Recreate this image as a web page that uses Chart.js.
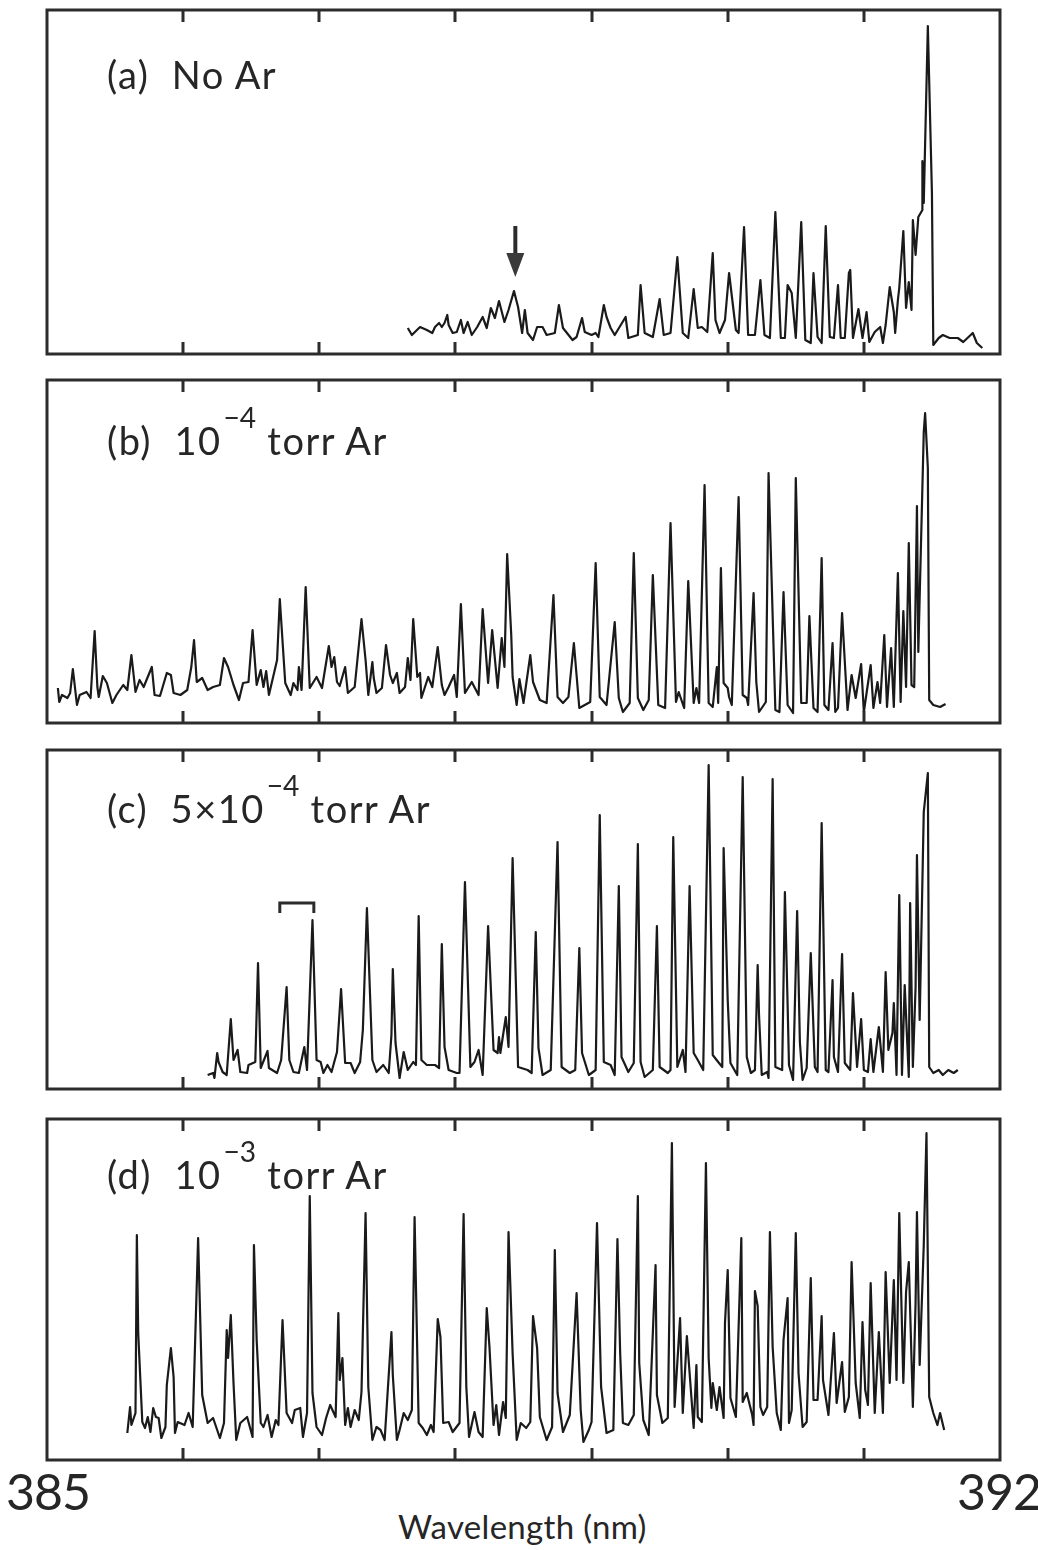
<!DOCTYPE html>
<html>
<head>
<meta charset="utf-8">
<script src="https://cdn.jsdelivr.net/npm/chart.js@4.4.1/dist/chart.umd.min.js"></script>
<style>
  html, body { margin: 0; padding: 0; background: #fff; }
  body { width: 1038px; height: 1550px; position: relative; overflow: hidden;
         font-family: Lato, "Open Sans", "DejaVu Sans", sans-serif; color: #262626; }
  canvas.pc { position: absolute; left: 37px; }
  .lbl { position: absolute; font-size: 38px; line-height: 1; white-space: nowrap; letter-spacing: 1.5px; }
  .sup { position: relative; top: -0.95em; font-size: 0.74em; letter-spacing: 0; margin-left: 2px; }
  .tick { position: absolute; font-size: 50px; line-height: 1; letter-spacing: -1px; }
  .title { position: absolute; font-size: 33px; line-height: 1; white-space: nowrap; letter-spacing: 0.3px; }
</style>
</head>
<body>
<canvas id="cA" class="pc" width="973" height="364" style="top:0px"></canvas>
<canvas id="cB" class="pc" width="973" height="363" style="top:370px"></canvas>
<canvas id="cC" class="pc" width="973" height="359" style="top:740px"></canvas>
<canvas id="cD" class="pc" width="973" height="361" style="top:1109px"></canvas>

<div class="lbl" style="left:107px;top:55px">(a)&nbsp;&nbsp;No Ar</div>
<div class="lbl" style="left:107px;top:421px">(b)&nbsp;&nbsp;10<span class="sup">−4</span> torr Ar</div>
<div class="lbl" style="left:107px;top:789px">(c)&nbsp;&nbsp;5×10<span class="sup">−4</span> torr Ar</div>
<div class="lbl" style="left:107px;top:1155px">(d)&nbsp;&nbsp;10<span class="sup">−3</span> torr Ar</div>

<div id="tL" class="tick" style="left:6px;top:1466px"></div>
<div id="tR" class="tick" style="left:957px;top:1466px"></div>
<div id="xt" class="title" style="left:398px;top:1510px"></div>

<script>
// ---------- data (wavelength in nm, intensity in arbitrary units) ----------
const axisMin = 385;
const axisMax = 392;
const wavelengthTicks = [386, 387, 388, 389, 390, 391];
const xTickLabels = ['385', '392'];
const axisTitle = 'Wavelength (nm)';

// (a) No Ar
const specA = [[387.65,26],[387.68,19],[387.74,27],[387.79,24],[387.83,21],[387.85,27],[387.88,31],[387.90,27],[387.92,31],[387.94,39],[387.95,29],[387.98,21],[388.01,22],[388.04,34],[388.06,21],[388.09,32],[388.12,19],[388.16,27],[388.20,37],[388.23,26],[388.26,46],[388.29,36],[388.32,53],[388.36,32],[388.39,44],[388.43,63],[388.46,47],[388.49,21],[388.51,44],[388.53,21],[388.57,14],[388.60,27],[388.64,27],[388.67,19],[388.73,21],[388.76,49],[388.79,26],[388.86,14],[388.89,17],[388.93,36],[388.95,22],[389.00,19],[389.03,21],[389.05,17],[389.09,49],[389.11,37],[389.14,26],[389.17,19],[389.25,37],[389.27,16],[389.34,19],[389.36,69],[389.39,21],[389.45,17],[389.50,55],[389.53,19],[389.58,21],[389.63,97],[389.67,21],[389.71,16],[389.75,65],[389.78,26],[389.81,27],[389.85,22],[389.89,101],[389.91,34],[389.94,21],[389.98,34],[390.01,81],[390.06,24],[390.08,21],[390.12,127],[390.15,19],[390.20,19],[390.24,74],[390.27,19],[390.31,16],[390.35,142],[390.39,16],[390.42,16],[390.44,69],[390.47,61],[390.50,16],[390.54,132],[390.57,14],[390.61,11],[390.63,81],[390.66,17],[390.69,11],[390.72,128],[390.75,17],[390.78,16],[390.81,69],[390.83,16],[390.86,16],[390.89,81],[390.90,84],[390.92,16],[390.96,45],[390.99,16],[391.02,42],[391.04,12],[391.08,22],[391.12,27],[391.14,11],[391.16,29],[391.19,67],[391.22,42],[391.23,21],[391.25,54],[391.26,66],[391.29,123],[391.31,46],[391.33,72],[391.35,44],[391.36,134],[391.38,99],[391.40,137],[391.43,144],[391.43,193],[391.44,151],[391.47,328],[391.50,161],[391.51,9],[391.55,16],[391.58,19],[391.63,16],[391.69,16],[391.73,12],[391.80,21],[391.83,11],[391.87,6]];

// (b) 1e-4 torr Ar
const specB = [[385.08,35],[385.09,21],[385.11,28],[385.15,25],[385.17,30],[385.19,54],[385.22,18],[385.24,28],[385.29,31],[385.32,25],[385.35,92],[385.37,36],[385.38,26],[385.41,47],[385.44,40],[385.48,20],[385.51,28],[385.56,38],[385.59,33],[385.62,68],[385.65,31],[385.68,43],[385.71,36],[385.74,46],[385.77,56],[385.79,28],[385.83,27],[385.88,50],[385.91,48],[385.93,30],[385.98,28],[386.03,33],[386.06,56],[386.08,83],[386.10,41],[386.14,45],[386.18,33],[386.22,36],[386.27,38],[386.30,65],[386.33,56],[386.37,38],[386.41,23],[386.44,40],[386.48,41],[386.51,93],[386.54,38],[386.57,53],[386.59,36],[386.61,52],[386.63,28],[386.69,63],[386.71,124],[386.75,40],[386.79,28],[386.81,40],[386.84,33],[386.85,56],[386.87,33],[386.90,136],[386.93,35],[386.98,46],[387.02,35],[387.07,77],[387.09,56],[387.11,66],[387.13,41],[387.15,37],[387.19,56],[387.21,30],[387.26,36],[387.31,104],[387.34,63],[387.36,28],[387.39,61],[387.40,45],[387.42,30],[387.46,35],[387.49,78],[387.52,48],[387.54,40],[387.57,50],[387.59,30],[387.63,36],[387.65,65],[387.67,43],[387.69,104],[387.72,46],[387.74,50],[387.75,25],[387.80,46],[387.83,36],[387.87,76],[387.90,38],[387.92,28],[387.95,36],[387.99,48],[388.01,26],[388.04,119],[388.07,30],[388.12,41],[388.17,28],[388.20,114],[388.24,40],[388.27,93],[388.31,35],[388.34,85],[388.36,56],[388.38,169],[388.41,88],[388.42,46],[388.45,18],[388.47,44],[388.50,20],[388.55,68],[388.57,41],[388.62,23],[388.67,20],[388.72,128],[388.75,26],[388.79,20],[388.83,26],[388.87,80],[388.91,15],[388.99,21],[389.03,160],[389.06,26],[389.11,18],[389.17,101],[389.20,25],[389.23,11],[389.28,20],[389.31,170],[389.34,25],[389.38,13],[389.42,23],[389.45,148],[389.49,18],[389.54,15],[389.58,200],[389.62,21],[389.64,31],[389.68,15],[389.71,142],[389.75,20],[389.77,35],[389.79,20],[389.83,238],[389.86,20],[389.89,16],[389.92,56],[389.93,20],[389.95,155],[389.97,40],[390.00,35],[390.01,26],[390.03,18],[390.08,226],[390.11,28],[390.14,25],[390.15,18],[390.19,130],[390.21,41],[390.23,11],[390.28,21],[390.30,250],[390.35,13],[390.38,11],[390.41,131],[390.44,18],[390.48,10],[390.50,245],[390.54,20],[390.58,20],[390.60,107],[390.63,15],[390.66,11],[390.69,165],[390.71,18],[390.74,13],[390.77,80],[390.79,11],[390.81,15],[390.84,110],[390.88,13],[390.91,48],[390.94,25],[390.98,59],[391.00,11],[391.02,30],[391.05,58],[391.07,15],[391.10,41],[391.12,20],[391.15,88],[391.17,16],[391.20,75],[391.22,16],[391.25,150],[391.27,21],[391.29,112],[391.31,36],[391.33,180],[391.35,38],[391.37,36],[391.39,217],[391.40,71],[391.44,291],[391.45,310],[391.47,255],[391.48,23],[391.51,18],[391.56,16],[391.60,19]];

// (c) 5e-4 torr Ar
const specC = [[386.18,14],[386.22,16],[386.23,11],[386.25,36],[386.26,27],[386.29,17],[386.32,14],[386.35,70],[386.37,29],[386.40,39],[386.42,17],[386.47,16],[386.48,24],[386.53,27],[386.55,126],[386.57,21],[386.62,38],[386.63,21],[386.69,16],[386.72,29],[386.76,102],[386.78,29],[386.81,17],[386.85,16],[386.89,42],[386.91,19],[386.95,169],[386.98,29],[387.01,27],[387.03,16],[387.06,24],[387.09,17],[387.13,37],[387.16,100],[387.19,26],[387.23,26],[387.26,16],[387.30,27],[387.32,59],[387.35,181],[387.39,29],[387.42,17],[387.47,24],[387.51,16],[387.53,54],[387.54,120],[387.56,46],[387.59,11],[387.62,37],[387.65,19],[387.69,27],[387.71,24],[387.73,173],[387.75,29],[387.79,24],[387.85,24],[387.88,21],[387.90,145],[387.92,42],[387.95,19],[388.01,16],[388.03,16],[388.07,207],[388.11,22],[388.14,27],[388.17,39],[388.20,14],[388.24,163],[388.28,39],[388.31,36],[388.32,52],[388.33,36],[388.37,72],[388.39,42],[388.42,231],[388.46,22],[388.53,19],[388.56,16],[388.59,157],[388.61,41],[388.64,14],[388.70,19],[388.75,247],[388.78,22],[388.84,16],[388.88,19],[388.91,141],[388.93,36],[388.98,14],[389.03,19],[389.06,274],[389.09,27],[389.14,24],[389.17,14],[389.20,203],[389.22,32],[389.27,17],[389.31,26],[389.34,245],[389.36,27],[389.39,12],[389.45,19],[389.48,163],[389.50,22],[389.56,16],[389.58,19],[389.60,252],[389.63,22],[389.67,39],[389.69,17],[389.72,203],[389.75,36],[389.78,29],[389.82,19],[389.86,324],[389.89,34],[389.93,27],[389.96,22],[389.97,241],[390.00,89],[390.02,26],[390.07,14],[390.11,312],[390.14,32],[390.17,16],[390.20,19],[390.22,124],[390.23,74],[390.25,14],[390.29,17],[390.30,11],[390.33,310],[390.35,22],[390.40,19],[390.42,197],[390.44,84],[390.45,24],[390.48,9],[390.51,178],[390.53,47],[390.55,9],[390.58,21],[390.61,136],[390.64,22],[390.66,17],[390.69,266],[390.72,19],[390.74,17],[390.77,109],[390.78,32],[390.81,17],[390.84,135],[390.86,26],[390.90,19],[390.92,96],[390.95,22],[390.98,70],[391.00,19],[391.03,17],[391.05,50],[391.07,17],[391.11,62],[391.14,17],[391.16,117],[391.18,39],[391.21,56],[391.22,86],[391.24,14],[391.26,194],[391.28,14],[391.30,104],[391.33,12],[391.34,186],[391.36,22],[391.38,102],[391.39,234],[391.41,69],[391.44,277],[391.47,316],[391.48,22],[391.51,16],[391.55,19],[391.58,14],[391.62,19],[391.66,16],[391.69,19]];

// (d) 1e-3 torr Ar
const specD = [[385.59,27],[385.61,53],[385.62,35],[385.65,47],[385.66,225],[385.67,127],[385.70,38],[385.72,32],[385.74,43],[385.76,28],[385.78,52],[385.80,43],[385.82,42],[385.84,22],[385.87,33],[385.88,75],[385.91,112],[385.93,83],[385.94,27],[385.96,38],[386.01,35],[386.04,47],[386.07,33],[386.11,222],[386.14,65],[386.18,37],[386.22,42],[386.27,22],[386.30,37],[386.32,130],[386.33,102],[386.35,145],[386.37,77],[386.39,20],[386.42,37],[386.47,43],[386.51,23],[386.52,215],[386.54,120],[386.57,37],[386.59,33],[386.62,45],[386.65,23],[386.68,40],[386.70,35],[386.73,140],[386.76,47],[386.80,37],[386.82,50],[386.86,52],[386.88,23],[386.91,47],[386.93,264],[386.95,67],[386.98,33],[387.02,25],[387.05,42],[387.08,55],[387.12,43],[387.14,147],[387.15,80],[387.17,102],[387.19,35],[387.21,52],[387.23,33],[387.26,50],[387.29,40],[387.31,68],[387.34,247],[387.36,73],[387.39,20],[387.42,33],[387.45,30],[387.48,20],[387.53,128],[387.54,85],[387.57,20],[387.59,30],[387.62,47],[387.65,40],[387.68,50],[387.70,243],[387.73,37],[387.76,32],[387.79,25],[387.82,35],[387.84,28],[387.87,141],[387.89,123],[387.91,37],[387.95,38],[387.98,28],[388.03,37],[388.06,246],[388.08,73],[388.10,23],[388.14,48],[388.17,28],[388.20,23],[388.23,152],[388.25,113],[388.28,35],[388.30,55],[388.32,25],[388.35,58],[388.37,42],[388.39,228],[388.42,107],[388.45,20],[388.48,37],[388.52,32],[388.55,38],[388.57,144],[388.60,112],[388.62,43],[388.67,20],[388.71,33],[388.73,210],[388.75,67],[388.79,28],[388.84,45],[388.89,167],[388.92,50],[388.94,18],[388.98,30],[389.00,38],[389.04,237],[389.07,73],[389.11,27],[389.16,30],[389.19,221],[389.21,107],[389.23,37],[389.27,35],[389.31,45],[389.34,264],[389.35,97],[389.38,40],[389.42,25],[389.47,195],[389.48,65],[389.52,37],[389.56,42],[389.59,317],[389.61,53],[389.65,142],[389.67,47],[389.70,124],[389.75,32],[389.77,95],[389.78,43],[389.81,38],[389.84,297],[389.86,102],[389.88,52],[389.89,77],[389.92,50],[389.94,73],[389.97,42],[389.98,137],[390.00,190],[390.02,62],[390.06,43],[390.10,222],[390.11,58],[390.14,67],[390.18,45],[390.19,35],[390.20,169],[390.22,154],[390.24,53],[390.26,45],[390.29,53],[390.31,228],[390.33,113],[390.36,47],[390.39,30],[390.41,120],[390.44,162],[390.45,37],[390.47,50],[390.50,227],[390.52,87],[390.55,33],[390.58,38],[390.61,182],[390.63,60],[390.66,60],[390.69,144],[390.70,80],[390.74,45],[390.78,127],[390.80,57],[390.84,98],[390.86,48],[390.89,63],[390.91,198],[390.94,77],[390.97,42],[390.99,138],[391.01,70],[391.03,55],[391.05,177],[391.08,47],[391.11,128],[391.14,47],[391.16,188],[391.19,77],[391.22,180],[391.24,80],[391.26,247],[391.29,77],[391.31,168],[391.33,198],[391.36,53],[391.38,158],[391.39,248],[391.41,95],[391.44,215],[391.46,327],[391.48,63],[391.51,47],[391.54,35],[391.56,47],[391.59,30]];

// annotation anchors (data coordinates)
const arrowA = { x: 388.44, top: 128, neck: 101, tip: 77 };
const bracketC = { x1: 386.71, x2: 386.96, top: 186, foot: 176 };

// ---------- rendering ----------
const frameTicks = {
  id: 'frameTicks',
  afterDatasetsDraw(chart, args, o) {
    const { ctx, chartArea: a } = chart;
    const xs = chart.scales.x, ys = chart.scales.y;
    ctx.save();
    ctx.strokeStyle = '#2c2c2c';
    ctx.lineWidth = 3;
    ctx.strokeRect(a.left, a.top, a.right - a.left, a.bottom - a.top);
    ctx.beginPath();
    wavelengthTicks.forEach(v => {
      const px = Math.round(xs.getPixelForValue(v));
      ctx.moveTo(px, a.top); ctx.lineTo(px, a.top + 12);
      ctx.moveTo(px, a.bottom); ctx.lineTo(px, a.bottom - 12);
    });
    ctx.stroke();
    if (o.arrow) {
      const ar = o.arrow;
      const px = xs.getPixelForValue(ar.x);
      ctx.lineWidth = 4;
      ctx.beginPath();
      ctx.moveTo(px, ys.getPixelForValue(ar.top));
      ctx.lineTo(px, ys.getPixelForValue(ar.neck) + 1);
      ctx.stroke();
      ctx.fillStyle = '#3a3a3a';
      ctx.beginPath();
      ctx.moveTo(px - 9, ys.getPixelForValue(ar.neck));
      ctx.lineTo(px + 9, ys.getPixelForValue(ar.neck));
      ctx.lineTo(px, ys.getPixelForValue(ar.tip));
      ctx.closePath();
      ctx.fill();
    }
    if (o.bracket) {
      const b = o.bracket;
      const x1 = xs.getPixelForValue(b.x1), x2 = xs.getPixelForValue(b.x2);
      ctx.lineWidth = 3;
      ctx.beginPath();
      ctx.moveTo(x1, ys.getPixelForValue(b.foot));
      ctx.lineTo(x1, ys.getPixelForValue(b.top));
      ctx.lineTo(x2, ys.getPixelForValue(b.top));
      ctx.lineTo(x2, ys.getPixelForValue(b.foot));
      ctx.stroke();
    }
    ctx.restore();
  }
};

function makePanel(id, spec, yMax, extra) {
  const pts = spec.map(p => ({ x: p[0], y: p[1] }));
  new Chart(document.getElementById(id), {
    type: 'line',
    data: { datasets: [{ data: pts, borderColor: '#1a1a1a', borderWidth: 2.2,
                          borderJoinStyle: 'round', pointRadius: 0, tension: 0, fill: false }] },
    options: {
      responsive: false, animation: false, events: [],
      layout: { padding: 10 },
      scales: {
        x: { type: 'linear', min: axisMin, max: axisMax, display: false },
        y: { min: 0, max: yMax, display: false }
      },
      plugins: { legend: { display: false }, tooltip: { enabled: false },
                 frameTicks: extra || {} }
    },
    plugins: [frameTicks]
  });
}

makePanel('cA', specA, 344, { arrow: arrowA });
makePanel('cB', specB, 343);
makePanel('cC', specC, 339, { bracket: bracketC });
makePanel('cD', specD, 341);

document.getElementById('tL').textContent = xTickLabels[0];
document.getElementById('tR').textContent = xTickLabels[1];
document.getElementById('xt').textContent = axisTitle;
</script>
</body>
</html>
